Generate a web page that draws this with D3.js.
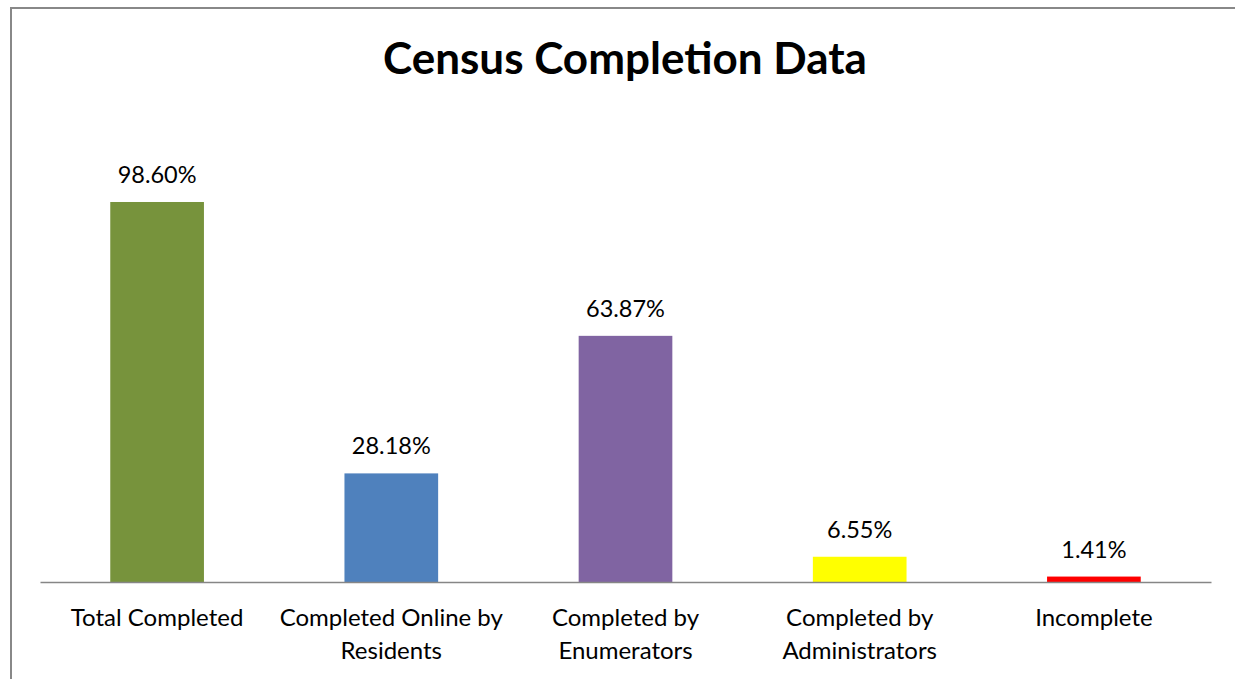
<!DOCTYPE html>
<html>
<head>
<meta charset="utf-8">
<script src="https://cdn.jsdelivr.net/npm/d3@7"></script>
<style>
  html, body { margin: 0; padding: 0; background: #fff; }
  svg { display: block; }
  text { font-family: Lato, "Open Sans", sans-serif; fill: #000; }
</style>
</head>
<body>
<svg id="chart" width="1235" height="679"></svg>
<script>
const categories = ["Total Completed", "Completed Online by Residents", "Completed by Enumerators", "Completed by Administrators", "Incomplete"];
const categoryLines = [["Total Completed"], ["Completed Online by", "Residents"], ["Completed by", "Enumerators"], ["Completed by", "Administrators"], ["Incomplete"]];
const values = [98.60, 28.18, 63.87, 6.55, 1.41];
const valueLabels = ["98.60%", "28.18%", "63.87%", "6.55%", "1.41%"];
const colors = ["#77933C", "#4F81BD", "#8064A2", "#FFFF00", "#FF0000"];
const title = "Census Completion Data";

const svg = d3.select("#chart");

// outer chart border (extends past the right/bottom of the frame)
svg.append("rect")
  .attr("x", 11).attr("y", 8)
  .attr("width", 1300).attr("height", 800)
  .attr("fill", "#fff").attr("stroke", "#888").attr("stroke-width", 2);

const x = d3.scaleBand().domain(categories).range([40, 1211]).paddingInner(0.6).paddingOuter(0.3);
const y = d3.scaleLinear().domain([0, 100]).range([582, 196.6]);

svg.append("text")
  .attr("x", 625).attr("y", 74)
  .attr("text-anchor", "middle")
  .style("font-weight", "bold").style("font-size", "44px")
  .text(title);

svg.selectAll("rect.bar").data(values).enter().append("rect")
  .attr("class", "bar")
  .attr("x", (d, i) => x(categories[i]))
  .attr("width", x.bandwidth())
  .attr("y", d => y(d))
  .attr("height", d => y(0) - y(d))
  .attr("fill", (d, i) => colors[i]);

svg.selectAll("text.val").data(values).enter().append("text")
  .attr("class", "val")
  .attr("x", (d, i) => x(categories[i]) + x.bandwidth() / 2)
  .attr("y", d => y(d) - 19)
  .attr("text-anchor", "middle")
  .style("font-size", "23.5px")
  .text((d, i) => valueLabels[i]);

// axis
const axis = svg.append("g").attr("transform", `translate(0,${y(0)})`)
  .call(d3.axisBottom(x).tickSize(0).tickFormat(""));
axis.select(".domain").attr("stroke", "#868686").attr("stroke-width", 1.5);

const lab = svg.selectAll("text.cat").data(categories).enter().append("text")
  .attr("class", "cat")
  .attr("text-anchor", "middle")
  .style("font-size", "24px");
lab.each(function(d, i) {
  const t = d3.select(this);
  categoryLines[i].forEach((line, j) => {
    t.append("tspan")
      .attr("x", x(d) + x.bandwidth() / 2)
      .attr("y", y(0) + 44 + j * 33)
      .text(line);
  });
});
</script>
</body>
</html>
